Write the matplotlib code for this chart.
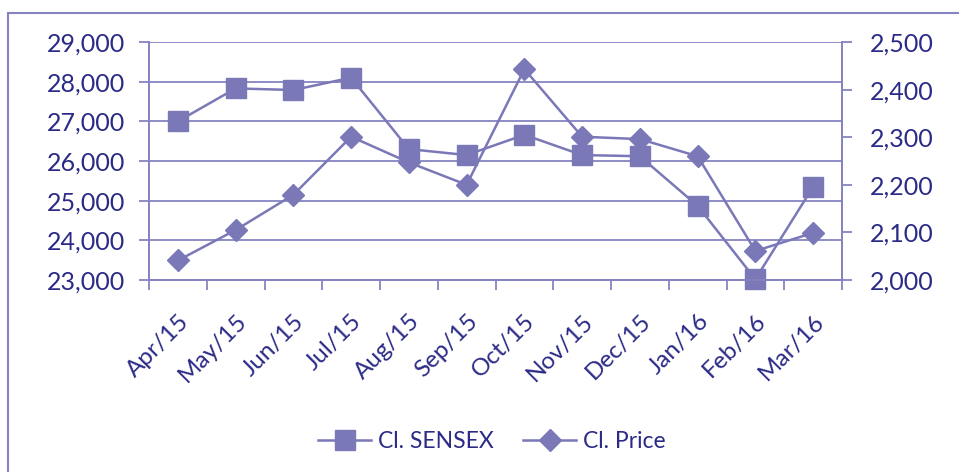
import matplotlib
matplotlib.use("Agg")
import matplotlib.pyplot as plt
from matplotlib.patches import Rectangle

months = ["Apr/15", "May/15", "Jun/15", "Jul/15", "Aug/15", "Sep/15",
          "Oct/15", "Nov/15", "Dec/15", "Jan/16", "Feb/16", "Mar/16"]
sensex = [27000, 27830, 27790, 28100, 26300, 26150,
          26660, 26150, 26120, 24870, 23020, 25350]
price = [2041, 2105, 2179, 2301, 2247, 2200,
         2443, 2301, 2296, 2260, 2061, 2099]

line_c = "#7B78B8"
text_c = "#2B2A86"
grid_c = "#8583C2"

plt.rcParams["font.family"] = ["Lato", "DejaVu Sans"]

fig = plt.figure(figsize=(9.59, 4.72), dpi=100)
ax = fig.add_axes([149 / 959, 1 - 280 / 472, (842 - 149) / 959, (280 - 42) / 472])
ax2 = ax.twinx()

x = list(range(len(months)))
ax.plot(x, sensex, color=line_c, lw=1.8, marker="s", ms=14, label="Cl. SENSEX",
        zorder=3, clip_on=False)
ax2.plot(x, price, color=line_c, lw=1.8, marker="D", ms=11, label="Cl. Price",
         zorder=3, clip_on=False)

ax.set_xlim(-0.5, len(months) - 0.5)
ax.set_ylim(23000, 29000)
ax2.set_ylim(2000, 2500)
ax.set_yticks(range(23000, 29001, 1000))
ax2.set_yticks(range(2000, 2501, 100))
ax.yaxis.set_major_formatter(matplotlib.ticker.StrMethodFormatter("{x:,.0f}"))
ax2.yaxis.set_major_formatter(matplotlib.ticker.StrMethodFormatter("{x:,.0f}"))

ax.set_xticks(x)
ax.set_xticklabels(months, rotation=45, ha="right", rotation_mode="anchor")
ax.set_xticks([i - 0.5 for i in range(len(months) + 1)], minor=True)
ax.tick_params(axis="x", which="major", length=0, pad=22, labelsize=17.5, labelcolor=text_c)
ax.tick_params(axis="x", which="minor", length=7, width=1.3, color=grid_c)

ax.tick_params(axis="y", length=7, width=1.3, color=grid_c, labelsize=18, labelcolor=text_c, pad=10)
ax2.tick_params(axis="y", length=7, width=1.3, color=grid_c, labelsize=18, labelcolor=text_c, pad=13)

ax.grid(axis="y", color=grid_c, lw=1.3)
ax.set_axisbelow(True)
for a in (ax, ax2):
    a.spines["top"].set_visible(False)
    for s in ("left", "right", "bottom"):
        a.spines[s].set_color(grid_c)
        a.spines[s].set_linewidth(1.3)

h1, l1 = ax.get_legend_handles_labels()
h2, l2 = ax2.get_legend_handles_labels()
leg = fig.legend(h1 + h2, l1 + l2, loc="center", bbox_to_anchor=(492 / 959, 1 - 442 / 472),
                 ncol=2, frameon=False, fontsize=16.5, handlelength=2.3, columnspacing=1.3,
                 handletextpad=0.3)
for t in leg.get_texts():
    t.set_color(text_c)

fig.patches.append(Rectangle((8 / 959, -0.1), 1.1, 1 - 13 / 472 + 0.1, transform=fig.transFigure,
                             fill=False, edgecolor=grid_c, lw=1.5))

fig.savefig("out.png", dpi=100)
